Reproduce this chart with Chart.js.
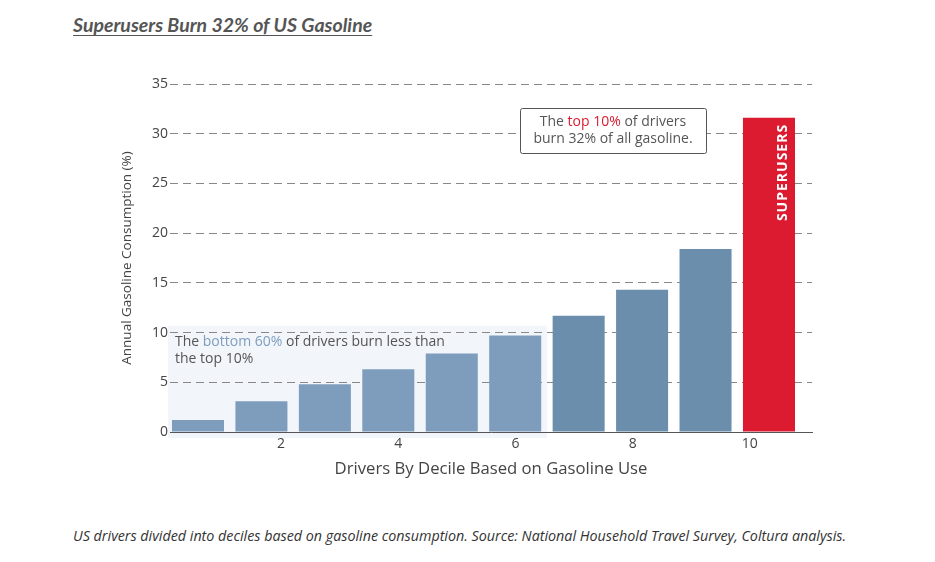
<!DOCTYPE html>
<html>
<head>
<meta charset="utf-8">
<script src="https://cdn.jsdelivr.net/npm/chart.js@4.4.0/dist/chart.umd.min.js"></script>
<style>
  body { margin: 0; background: #fff; width: 935px; height: 562px; position: relative; overflow: hidden; font-family: "Open Sans", sans-serif; }
  #title { position: absolute; left: 73px; top: 13px; font-family: Lato, sans-serif; font-style: italic; font-weight: 700; font-size: 19.5px; color: #555; text-decoration: underline; text-underline-offset: 3px; }
  #caption { position: absolute; left: 73px; top: 526px; font-style: italic; font-size: 14.3px; color: #333; }
  #wrap { position: absolute; left: 0; top: 0; width: 935px; height: 481px; }
</style>
</head>
<body>
<div id="title">Superusers Burn 32% of US Gasoline</div>
<div id="wrap"><canvas id="myChart"></canvas></div>
<div id="caption">US drivers divided into deciles based on gasoline consumption. Source: National Household Travel Survey, Coltura analysis.</div>
<script>
	var deciles = [1, 2, 3, 4, 5, 6, 7, 8, 9, 10];
	var consumption = [1.2, 3.1, 4.8, 6.3, 7.9, 9.7, 11.7, 14.3, 18.4, 31.6];
	var barColors = ['#7e9dbd', '#7e9dbd', '#7e9dbd', '#7e9dbd', '#7e9dbd', '#7e9dbd', '#6b8ead', '#6b8ead', '#6b8ead', '#dc1a30'];
	var xTicks = [2, 4, 6, 8, 10];
	var yTicks = [0, 5, 10, 15, 20, 25, 30, 35];

	var points = [];
	for (var i = 0; i < deciles.length; i++) {
		points.push({x: deciles[i], y: consumption[i]});
	}

	var notes = {
		id: 'notes',
		beforeDraw: function(chart) {
			// hellblauer Bereich fuer die unteren 60%
			var ctx = chart.ctx;
			var xs = chart.scales.x, ys = chart.scales.y;
			var x0 = xs.getPixelForValue(0.527), x1 = xs.getPixelForValue(6.5);
			var y0 = ys.getPixelForValue(10.7), y1 = ys.getPixelForValue(-0.6);
			ctx.save();
			ctx.fillStyle = '#f2f6fb';
			ctx.fillRect(x0, y0, x1 - x0, y1 - y0);
			ctx.restore();
		},
		afterDatasetsDraw: function(chart) {
			var ctx = chart.ctx;
			var xs = chart.scales.x, ys = chart.scales.y;
			ctx.save();
			// SUPERUSERS im roten Balken
			ctx.translate(xs.getPixelForValue(10) + 14, ys.getPixelForValue(26.1));
			ctx.rotate(-Math.PI / 2);
			ctx.fillStyle = '#ffffff';
			ctx.font = 'bold 14px "Open Sans"';
			ctx.textAlign = 'center';
			ctx.textBaseline = 'middle';
			ctx.letterSpacing = '1px';
			ctx.fillText('SUPERUSERS', 0, 0);
			ctx.restore();

			// Text unten links
			ctx.save();
			ctx.font = '14px "Open Sans"';
			ctx.textBaseline = 'middle';
			var tx = xs.getPixelForValue(0.527) + 7;
			var ty = ys.getPixelForValue(9.0);
			var parts = [['The ', '#555555'], ['bottom 60%', '#7e9dbd'], [' of drivers burn less than', '#555555']];
			for (var k = 0; k < parts.length; k++) {
				ctx.fillStyle = parts[k][1];
				ctx.fillText(parts[k][0], tx, ty);
				tx += ctx.measureText(parts[k][0]).width;
			}
			ctx.fillStyle = '#555555';
			ctx.fillText('the top 10%', xs.getPixelForValue(0.527) + 7, ty + 17);
			ctx.restore();

			// Kasten oben
			ctx.save();
			var bx = 520, by = 108, bw = 186, bh = 45;
			ctx.fillStyle = '#ffffff';
			ctx.strokeStyle = '#555555';
			ctx.lineWidth = 1;
			ctx.beginPath();
			ctx.roundRect(bx + 0.5, by + 0.5, bw, bh, 2);
			ctx.fill();
			ctx.stroke();
			ctx.font = '14px "Open Sans"';
			ctx.textBaseline = 'middle';
			var l1 = [['The ', '#555555'], ['top 10%', '#dc1a30'], [' of drivers', '#555555']];
			var w = 0;
			for (var k = 0; k < l1.length; k++) w += ctx.measureText(l1[k][0]).width;
			var cx = bx + bw / 2;
			var px = cx - w / 2;
			for (var k = 0; k < l1.length; k++) {
				ctx.fillStyle = l1[k][1];
				ctx.fillText(l1[k][0], px, by + 14);
				px += ctx.measureText(l1[k][0]).width;
			}
			ctx.fillStyle = '#555555';
			ctx.textAlign = 'center';
			ctx.fillText('burn 32% of all gasoline.', cx, by + 31);
			ctx.restore();
		}
	};

	var ctx = document.getElementById('myChart').getContext('2d');
	var chart = new Chart(ctx, {
		type: 'bar',
		data: {
			datasets: [{
				data: points,
				backgroundColor: barColors,
				borderWidth: 0,
				barPercentage: 1,
				categoryPercentage: 0.82,
				xAxisID: 'x'
			}]
		},
		options: {
			responsive: true,
			maintainAspectRatio: false,
			animation: false,
			layout: { padding: { left: 115, right: 123, top: 84, bottom: 0 } },
			plugins: { legend: { display: false }, tooltip: { enabled: false } },
			scales: {
				x: {
					type: 'linear',
					offset: false,
					min: 0.559,
					max: 10.678,
					display: false,
					afterFit: function(scale) { scale.height = 0; }
				},
				x2: {
					type: 'linear',
					position: 'bottom',
					offset: false,
					min: 0.107,
					max: 11.06,
					afterBuildTicks: function(scale) {
						scale.ticks = xTicks.map(function(v) { return {value: v}; });
					},
					afterFit: function(scale) { scale.height = 49; },
					grid: { display: false, drawTicks: false },
					border: { display: true, color: '#555555', width: 1 },
					ticks: { padding: 4, color: '#444444', font: { family: 'Open Sans', size: 14 } },
					title: { display: true, text: 'Drivers By Decile Based on Gasoline Use', color: '#444444', font: { family: 'Open Sans', size: 16.7 }, padding: { top: 0, bottom: 2 } }
				},
				y: {
					min: 0,
					max: 35,
					afterBuildTicks: function(scale) {
						scale.ticks = yTicks.map(function(v) { return {value: v}; });
					},
					afterFit: function(scale) { scale.width = 55; },
					grid: {
						drawTicks: false,
						color: function(c) { return c.tick && c.tick.value === 0 ? 'rgba(0,0,0,0)' : '#888888'; },
						lineWidth: 1
					},
					border: { display: false, dash: [8, 5] },
					ticks: { padding: 2, color: '#444444', font: { family: 'Open Sans', size: 14 } },
					title: { display: true, text: 'Annual Gasoline Consumption (%)', color: '#444444', font: { family: 'Open Sans', size: 13.5 }, padding: { top: 4, bottom: 4 } }
				}
			}
		},
		plugins: [notes]
	});
</script>
</body>
</html>
